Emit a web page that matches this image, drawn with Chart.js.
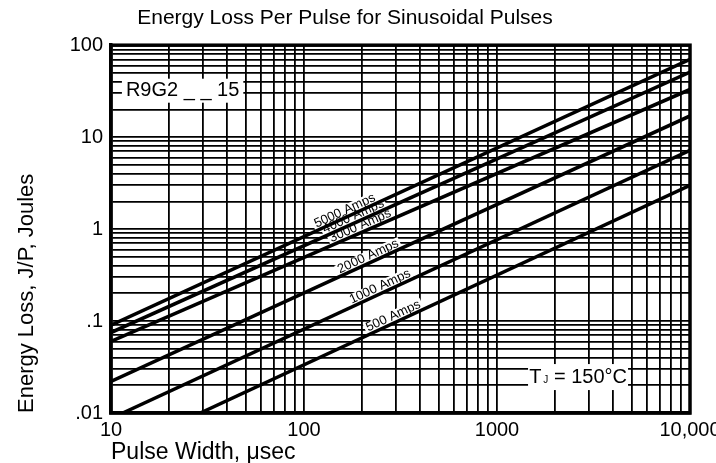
<!DOCTYPE html>
<html>
<head>
<meta charset="utf-8">
<script src="https://cdn.jsdelivr.net/npm/chart.js@4"></script>
<style>
  html, body { margin: 0; padding: 0; background: #fff; }
</style>
</head>
<body>
<canvas id="chart" width="716" height="463"></canvas>
<script>
// curves: energy loss vs pulse width, one per peak current
const seriesLabels = ['5000 Amps', '4000 Amps', '3000 Amps', '2000 Amps', '1000 Amps', '500 Amps'];
const widthStart = [10, 10, 10, 10, 11.5, 29];
const lossStart = [0.09, 0.075, 0.06, 0.022, 0.01, 0.01];
const widthEnd = [10000, 10000, 10000, 10000, 10000, 10000];
const lossEnd = [70, 51, 33, 17, 7.2, 3.0];
// pulse width at which each curve carries its label
const labelWidth = [168, 186, 202, 222, 256, 300];

const xTickValues = [10, 100, 1000, 10000];
const xTickLabels = ['10', '100', '1000', '10,000'];
const yTickValues = [0.01, 0.1, 1, 10, 100];
const yTickLabels = ['.01', '.1', '1', '10', '100'];

const FONT = '"Liberation Sans", Arial, Helvetica, sans-serif';
Chart.defaults.font.family = FONT;
Chart.defaults.color = '#000';

// log grid: 1..9 in every decade
function logGrid(lo, hi) {
  const out = [];
  for (let d = lo; d < hi; d *= 10) {
    for (let m = 1; m < 10; m++) out.push(d * m);
  }
  out.push(hi);
  return out;
}
const gridX = logGrid(10, 10000);
const gridY = logGrid(0.01, 100);

function tickText(values, labels) {
  return v => {
    const k = values.findIndex(t => Math.abs(t - v) < t * 1e-6);
    return k < 0 ? '' : labels[k];
  };
}

function labelGeom(chart, i) {
  const { x, y } = chart.scales;
  const x0 = x.getPixelForValue(widthStart[i]), y0 = y.getPixelForValue(lossStart[i]);
  const x1 = x.getPixelForValue(widthEnd[i]), y1 = y.getPixelForValue(lossEnd[i]);
  const px = x.getPixelForValue(labelWidth[i]);
  const t = (px - x0) / (x1 - x0);
  return { px, py: y0 + t * (y1 - y0), angle: Math.atan2(y1 - y0, x1 - x0) };
}

const annotate = {
  id: 'annotate',
  beforeDraw(chart) {
    const { ctx, width, height } = chart;
    ctx.save();
    ctx.fillStyle = '#fff';
    ctx.fillRect(0, 0, width, height);
    ctx.restore();
  },
  beforeDatasetsDraw(chart) {
    const { ctx, scales: { x, y } } = chart;
    ctx.save();
    ctx.fillStyle = '#fff';
    // box behind part number
    ctx.font = '20px ' + FONT;
    let cx = x.getPixelForValue(23.5), cy = y.getPixelForValue(32);
    let w = ctx.measureText('R9G2 _ _ 15').width;
    ctx.fillRect(cx - w / 2 - 4, cy - 12, w + 8, 24);
    // box behind junction temperature
    cx = x.getPixelForValue(2630); cy = y.getPixelForValue(0.0246);
    ctx.fillRect(cx - 50, cy - 13, 100, 26);
    // boxes behind curve labels
    ctx.font = '13px ' + FONT;
    seriesLabels.forEach((name, i) => {
      const g = labelGeom(chart, i);
      const tw = ctx.measureText(name).width;
      ctx.save();
      ctx.translate(g.px, g.py);
      ctx.rotate(g.angle);
      ctx.fillRect(-tw / 2 - 2, -12, tw + 4, 11);
      ctx.restore();
    });
    ctx.restore();
  },
  afterDatasetsDraw(chart) {
    const { ctx, chartArea: a, scales: { x, y } } = chart;
    ctx.save();
    ctx.fillStyle = '#000';
    ctx.textBaseline = 'middle';
    ctx.textAlign = 'center';
    ctx.font = '20px ' + FONT;
    ctx.fillText('R9G2 _ _ 15', x.getPixelForValue(23.5), y.getPixelForValue(32));

    // T_J = 150°C
    let cx = x.getPixelForValue(2630), cy = y.getPixelForValue(0.0246);
    ctx.textAlign = 'left';
    const tW = ctx.measureText('T').width;
    const restW = ctx.measureText(' = 150°C').width;
    ctx.font = '10px ' + FONT;
    const jW = ctx.measureText('J').width;
    let sx = cx - (tW + jW + 2 + restW) / 2;
    ctx.font = '20px ' + FONT;
    ctx.fillText('T', sx, cy);
    ctx.font = '10px ' + FONT;
    ctx.fillText('J', sx + tW + 2, cy + 3);
    ctx.font = '20px ' + FONT;
    ctx.fillText(' = 150°C', sx + tW + 2 + jW, cy);

    // curve labels
    ctx.textAlign = 'center';
    ctx.font = '13px ' + FONT;
    seriesLabels.forEach((name, i) => {
      const g = labelGeom(chart, i);
      ctx.save();
      ctx.translate(g.px, g.py);
      ctx.rotate(g.angle);
      ctx.fillText(name, 0, -6.5);
      ctx.restore();
    });

    // heavy frame
    ctx.strokeStyle = '#000';
    ctx.lineWidth = 3.5;
    ctx.strokeRect(a.left, a.top, a.right - a.left, a.bottom - a.top);
    ctx.restore();
  }
};

const datasets = seriesLabels.map((name, i) => ({
  label: name,
  data: [{ x: widthStart[i], y: lossStart[i] }, { x: widthEnd[i], y: lossEnd[i] }],
  borderColor: '#000',
  borderWidth: 3.5,
  pointRadius: 0,
  fill: false,
  tension: 0,
}));

new Chart(document.getElementById('chart'), {
  type: 'line',
  data: { datasets },
  plugins: [annotate],
  options: {
    responsive: false,
    animation: false,
    devicePixelRatio: 1,
    layout: { padding: { top: 2, right: 26, bottom: 0, left: 0 } },
    plugins: {
      legend: { display: false },
      tooltip: { enabled: false },
      title: {
        display: true,
        text: 'Energy Loss Per Pulse for Sinusoidal Pulses',
        color: '#000',
        font: { size: 21, weight: 'normal' },
        padding: { top: 4, bottom: 14 },
      },
    },
    scales: {
      x: {
        type: 'logarithmic',
        min: 10,
        max: 10000,
        afterBuildTicks: s => { s.ticks = gridX.map(v => ({ value: v })); },
        afterFit: s => { s.height = 50; s.paddingLeft = 0; s.paddingRight = 0; },
        grid: { color: '#000', lineWidth: 1.8, drawTicks: false },
        border: { color: '#000', width: 3.5 },
        ticks: {
          autoSkip: false, maxRotation: 0, padding: 5,
          color: '#000', font: { size: 20 },
          callback: tickText(xTickValues, xTickLabels),
        },
        title: {
          display: true, text: 'Pulse Width, μsec', align: 'start',
          color: '#000', font: { size: 23 }, padding: { top: 0, bottom: -3 },
        },
      },
      y: {
        type: 'logarithmic',
        min: 0.01,
        max: 100,
        afterBuildTicks: s => { s.ticks = gridY.map(v => ({ value: v })); },
        afterFit: s => { s.width = 111; s.paddingTop = 0; s.paddingBottom = 0; },
        grid: { color: '#000', lineWidth: 1.8, drawTicks: false },
        border: { color: '#000', width: 3.5 },
        ticks: {
          autoSkip: false, padding: 8,
          color: '#000', font: { size: 20 },
          callback: tickText(yTickValues, yTickLabels),
        },
        title: {
          display: true, text: 'Energy Loss, J/P, Joules', align: 'start',
          color: '#000', font: { size: 22 }, padding: { top: 14, bottom: 0 },
        },
      },
    },
  },
});
</script>
</body>
</html>
